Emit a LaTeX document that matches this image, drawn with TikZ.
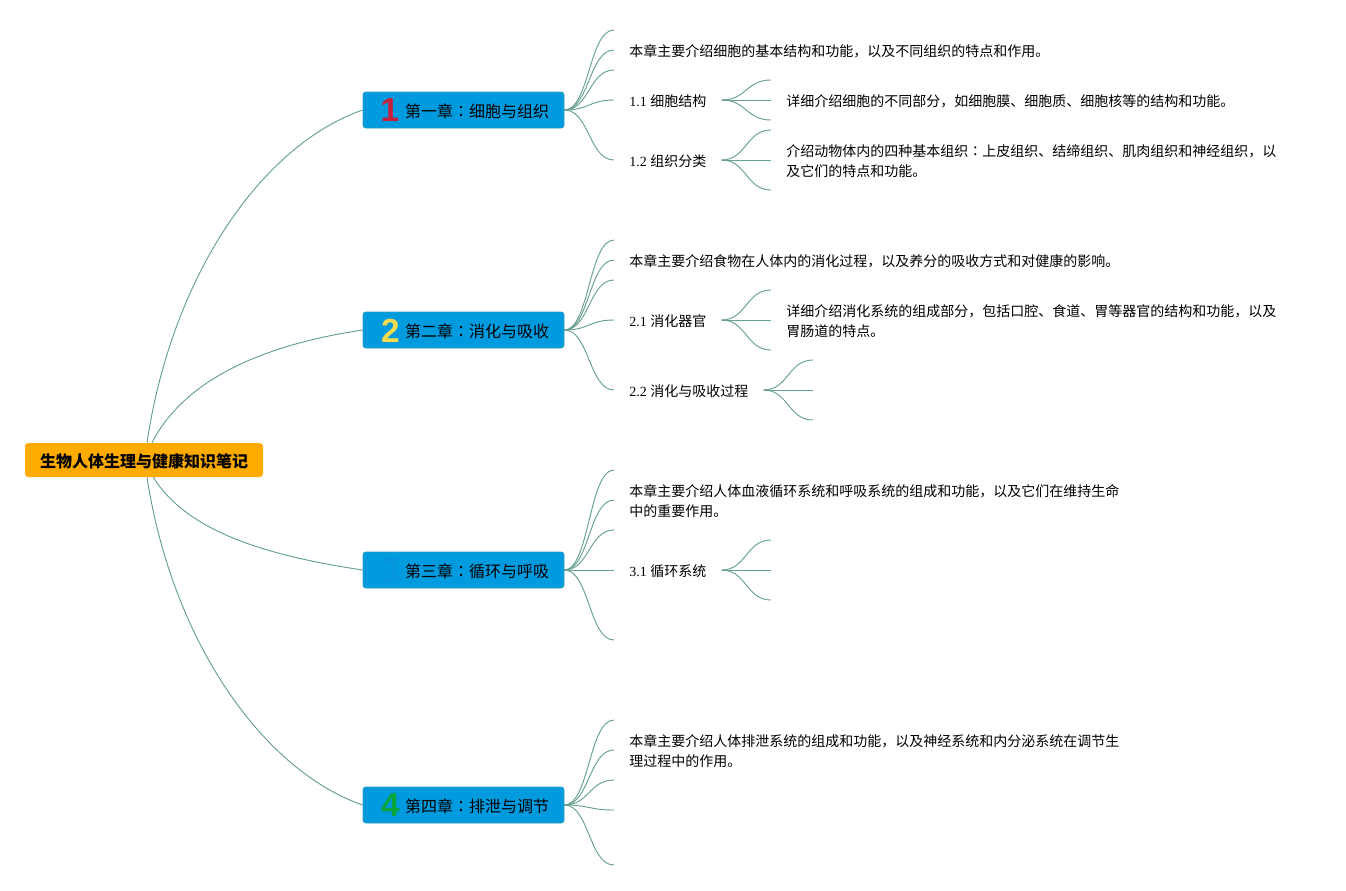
\documentclass[tikz,border=0pt]{standalone}
\usepackage{fontspec}
\setmainfont{Liberation Serif}
\newfontfamily\cjk{Noto Sans CJK SC}
\newfontfamily\cjktc{Noto Sans CJK TC}
\newfontfamily\iconfont{Liberation Sans}
\usetikzlibrary{calc}
\definecolor{rootfill}{HTML}{FFAB00}
\definecolor{chfill}{HTML}{009ADF}
\definecolor{chline}{HTML}{2C9DBE}
\definecolor{linkc}{HTML}{669F90}
\newcommand{\cn}{{\cjktc ：}}
\newcommand{\sublabel}[2]{\makebox[#1][l]{#2}}
\tikzset{
  sig/.style={to path={.. controls ($(\tikztostart)+(25,0)$) and ($(\tikztotarget)+(-25,0)$) .. (\tikztotarget)}},
  link/.style={draw=linkc,line width=.7pt},
  rootbox/.style={fill=rootfill,rounded corners=2.5pt,minimum width=178.5pt,minimum height=25.5pt,inner sep=0pt,text height=12pt,text depth=1.5pt,font=\cjk\bfseries\fontsize{12}{15}\selectfont,text=black},
  chbox/.style={fill=chfill,draw=chline,line width=.5pt,rounded corners=2pt,text width=150.75pt,minimum height=27pt,inner xsep=0pt,inner ysep=0pt,text height=12pt,text depth=1.5pt,align=left,font=\cjk\fontsize{12}{15}\selectfont,text=black},
  icon/.style={inner sep=0pt,font=\iconfont\bfseries\fontsize{25}{25}\selectfont},
  txt/.style={anchor=west,inner xsep=11.25pt,inner ysep=0pt,align=left,font=\fontsize{10.5}{15}\selectfont,text=black},
}
\begin{document}
\begin{tikzpicture}[x=.75pt,y=-.75pt]
\useasboundingbox (0,0) rectangle (1346,890);
\node[rootbox] (root) at (144,460) {生物人体生理与健康知识笔记};
\node[chbox] (ch1) at (463.5,110) {\hspace*{31.5pt}第一章\cn{}细胞与组织};
\node[chbox] (ch2) at (463.5,330) {\hspace*{31.5pt}第二章\cn{}消化与吸收};
\node[chbox] (ch3) at (463.5,570) {\hspace*{31.5pt}第三章\cn{}循环与呼吸};
\node[chbox] (ch4) at (463.5,805) {\hspace*{31.5pt}第四章\cn{}排泄与调节};
\node[icon,text={rgb,255:red,200;green,32;blue,60}] (ic1) at (390,110) {1};
\node[icon,text={rgb,255:red,245;green,220;blue,78}] (ic2) at (390.5,331) {2};
\node[icon,text={rgb,255:red,6;green,150;blue,220}] (ic3) at (390.5,571) {3};
\node[icon,text={rgb,255:red,10;green,165;blue,60}] (ic4) at (390.5,805) {4};

\draw[link] ([xshift=2.25pt]root.north) .. controls (172,275) and (262,145) .. (ch1.west);
\draw[link] ([xshift=6pt]root.north) .. controls (184,380) and (262,345) .. (ch2.west);
\draw[link] ([xshift=7pt]root.south) .. controls (186,530) and (262,555) .. (ch3.west);
\draw[link] ([xshift=2.25pt]root.south) .. controls (172,640) and (262,770) .. (ch4.west);

% Chapter 1
\node[txt] (d1) at (614,51) {{\cjk 本章主要介绍细胞的基本结构和功能，以及不同组织的特点和作用。}};
\node[txt] (s11) at (614,101) {\sublabel{57.75pt}{1.1 {\cjk 细胞结构}}};
\node[txt] (s12) at (614,161) {\sublabel{57.75pt}{1.2 {\cjk 组织分类}}};
\node[txt] (d11) at (771,101) {{\cjk 详细介绍细胞的不同部分，如细胞膜、细胞质、细胞核等的结构和功能。}};
\node[txt] (d12) at (771,161) {{\cjk 介绍动物体内的四种基本组织\cn{}上皮组织、结缔组织、肌肉组织和神经组织，以}\\{\cjk 及它们的特点和功能。}};
\coordinate (e1a) at (614,30);
\coordinate (e1b) at (614,70);
\coordinate (e11a) at (771,80);
\coordinate (e11b) at (771,120);
\coordinate (e12a) at (771,130);
\coordinate (e12b) at (771,190);
\foreach \t in {e1a,e1b} \draw[link] (ch1.east) to[sig] (\t);
\foreach \t in {d1,s11,s12} \draw[link] (ch1.east) to[sig] ([yshift=.75pt]\t.west);
\foreach \t in {e11a,e11b} \draw[link] ([yshift=.75pt]s11.east) to[sig] (\t);
\draw[link] ([yshift=.75pt]s11.east) to[sig] ([yshift=.75pt]d11.west);
\foreach \t in {e12a,e12b} \draw[link] ([yshift=.75pt]s12.east) to[sig] (\t);
\draw[link] ([yshift=.75pt]s12.east) to[sig] ([yshift=.75pt]d12.west);

% Chapter 2
\node[txt] (d2) at (614,261) {{\cjk 本章主要介绍食物在人体内的消化过程，以及养分的吸收方式和对健康的影响。}};
\node[txt] (s21) at (614,321) {\sublabel{57.75pt}{2.1 {\cjk 消化器官}}};
\node[txt] (s22) at (614,391) {\sublabel{89.25pt}{2.2 {\cjk 消化与吸收过程}}};
\node[txt] (d21) at (771,321) {{\cjk 详细介绍消化系统的组成部分，包括口腔、食道、胃等器官的结构和功能，以及}\\{\cjk 胃肠道的特点。}};
\coordinate (e2a) at (614,240);
\coordinate (e2b) at (614,280);
\coordinate (e21a) at (771,290);
\coordinate (e21b) at (771,350);
\coordinate (e22a) at (813,360);
\coordinate (e22m) at (813,390);
\coordinate (e22b) at (813,420);
\foreach \t in {e2a,e2b} \draw[link] (ch2.east) to[sig] (\t);
\foreach \t in {d2,s21,s22} \draw[link] (ch2.east) to[sig] ([yshift=.75pt]\t.west);
\foreach \t in {e21a,e21b} \draw[link] ([yshift=.75pt]s21.east) to[sig] (\t);
\draw[link] ([yshift=.75pt]s21.east) to[sig] ([yshift=.75pt]d21.west);
\foreach \t in {e22a,e22m,e22b} \draw[link] ([yshift=.75pt]s22.east) to[sig] (\t);

% Chapter 3
\node[txt] (d3) at (614,501) {{\cjk 本章主要介绍人体血液循环系统和呼吸系统的组成和功能，以及它们在维持生命}\\{\cjk 中的重要作用。}};
\node[txt] (s31) at (614,571) {\sublabel{57.75pt}{3.1 {\cjk 循环系统}}};
\coordinate (e3a) at (614,470);
\coordinate (e3b) at (614,530);
\coordinate (e3c) at (614,640);
\coordinate (e31a) at (771,540);
\coordinate (e31m) at (771,570);
\coordinate (e31b) at (771,600);
\foreach \t in {e3a,e3b,e3c} \draw[link] (ch3.east) to[sig] (\t);
\foreach \t in {d3,s31} \draw[link] (ch3.east) to[sig] ([yshift=.75pt]\t.west);
\foreach \t in {e31a,e31m,e31b} \draw[link] ([yshift=.75pt]s31.east) to[sig] (\t);

% Chapter 4
\node[txt] (d4) at (614,751) {{\cjk 本章主要介绍人体排泄系统的组成和功能，以及神经系统和内分泌系统在调节生}\\{\cjk 理过程中的作用。}};
\coordinate (e4a) at (614,720);
\coordinate (e4b) at (614,780);
\coordinate (e4c) at (614,810);
\coordinate (e4d) at (614,865);
\foreach \t in {e4a,e4b,e4c,e4d} \draw[link] (ch4.east) to[sig] (\t);
\draw[link] (ch4.east) to[sig] ([yshift=.75pt]d4.west);
\end{tikzpicture}
\end{document}
